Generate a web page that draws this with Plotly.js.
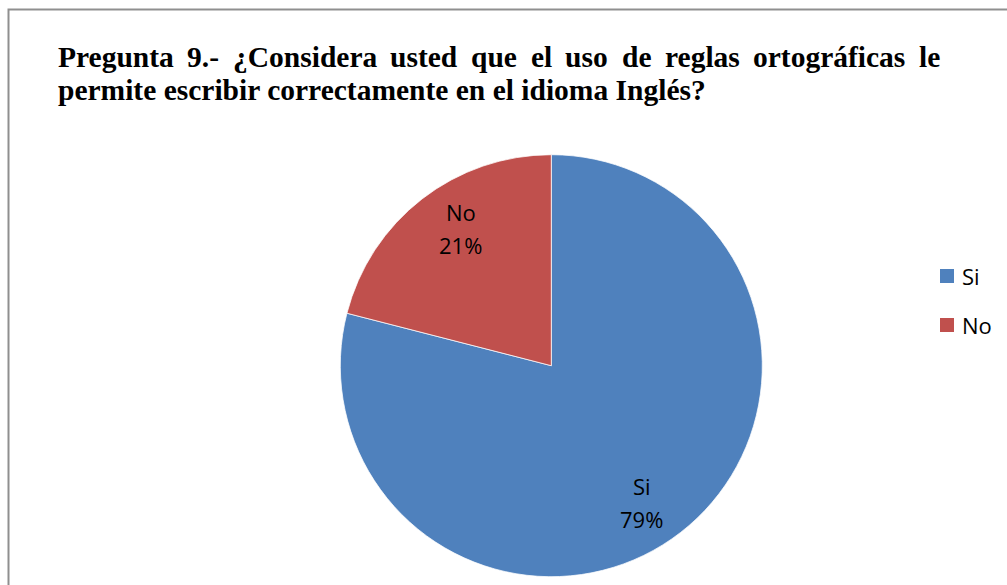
<!DOCTYPE html>
<html>
<head>
<meta charset="utf-8">
<script src="https://cdn.plot.ly/plotly-3.0.1.min.js"></script>
<style>
html,body{margin:0;padding:0;background:#fff;}
#chart{width:1007px;height:585px;}
</style>
</head>
<body>
<div id="chart"></div>
<script>
// ---- data ----
const categories = ['Si', 'No'];
const values = [79, 21];
const colors = ['#4F81BD', '#C0504D'];
const titleLine1 = 'Pregunta 9.- ¿Considera usted que el uso de reglas ortográficas le';
const titleLine2 = 'permite escribir correctamente en el idioma Inglés?';

// ---- layout constants (pixels) ----
const W = 1007, H = 585;
const cx = 551.3, cy = 365.7, R = 211;
const px = x => x / W;
const py = y => 1 - y / H;

const titleFont = {family: 'Liberation Serif, Times New Roman, serif', size: 29.5, color: '#000'};
const labelFont = {family: 'Open Sans, Liberation Sans, sans-serif', size: 22, color: '#000'};

const annotations = [];
const shapes = [];

// justified first title line: measure words
const ctx = document.createElement('canvas').getContext('2d');
ctx.font = 'bold 29.5px "Liberation Serif"';
const words = titleLine1.split(' ');
const widths = words.map(w => ctx.measureText(w).width);
const lineLeft = 57, lineRight = 939;
const gap = (lineRight - lineLeft - widths.reduce((a, b) => a + b, 0)) / (words.length - 1);
let xpos = lineLeft;
words.forEach((w, i) => {
  annotations.push({text: '<b>' + w + '</b>', x: px(xpos), y: py(57), xref: 'paper', yref: 'paper',
    xanchor: 'left', yanchor: 'middle', showarrow: false, font: titleFont, borderpad: 0});
  xpos += widths[i] + gap;
});
annotations.push({text: '<b>' + titleLine2 + '</b>', x: px(lineLeft), y: py(90), xref: 'paper', yref: 'paper',
  xanchor: 'left', yanchor: 'middle', showarrow: false, font: titleFont, borderpad: 0});

// slice labels placed along each slice bisector
const total = values.reduce((a, b) => a + b, 0);
let cum = 0;
const kx = 0.70, ky = 0.82;
values.forEach((v, i) => {
  const mid = (cum + v / 2) / total * 2 * Math.PI;
  cum += v;
  const lx = cx + kx * R * Math.sin(mid);
  const ly = cy - ky * R * Math.cos(mid);
  annotations.push({text: categories[i], x: px(lx), y: py(ly - 16.5), xref: 'paper', yref: 'paper',
    xanchor: 'center', yanchor: 'middle', showarrow: false, font: labelFont});
  annotations.push({text: Math.round(v / total * 100) + '%', x: px(lx), y: py(ly + 16.5), xref: 'paper', yref: 'paper',
    xanchor: 'center', yanchor: 'middle', showarrow: false, font: labelFont});
});

// legend
categories.forEach((c, i) => {
  const yc = 276 + i * 49;
  shapes.push({type: 'rect', xref: 'paper', yref: 'paper', x0: px(940), x1: px(954), y0: py(yc - 7), y1: py(yc + 7),
    fillcolor: colors[i], line: {width: 0}});
  annotations.push({text: c, x: px(960), y: py(yc), xref: 'paper', yref: 'paper', xanchor: 'left', yanchor: 'middle',
    showarrow: false, font: labelFont});
});

// chart border
shapes.push({type: 'rect', xref: 'paper', yref: 'paper', x0: px(8.5), x1: px(1030), y0: py(9.5), y1: py(620),
  line: {color: '#8f8f8f', width: 2}, fillcolor: 'rgba(0,0,0,0)', layer: 'below'});

const trace = {
  type: 'pie',
  labels: categories,
  values: values,
  marker: {colors: colors, line: {color: '#ffffff', width: 0.75}},
  sort: false,
  direction: 'clockwise',
  rotation: 0,
  textinfo: 'none',
  hoverinfo: 'label+percent',
  showlegend: false,
  domain: {x: [px(cx - R), px(cx + R)], y: [py(cy + R), py(cy - R)]}
};

const layout = {
  width: W, height: H,
  margin: {l: 0, r: 0, t: 0, b: 0},
  paper_bgcolor: '#ffffff',
  showlegend: false,
  annotations: annotations,
  shapes: shapes
};

Plotly.newPlot('chart', [trace], layout, {displayModeBar: false, staticPlot: true});
</script>
</body>
</html>
